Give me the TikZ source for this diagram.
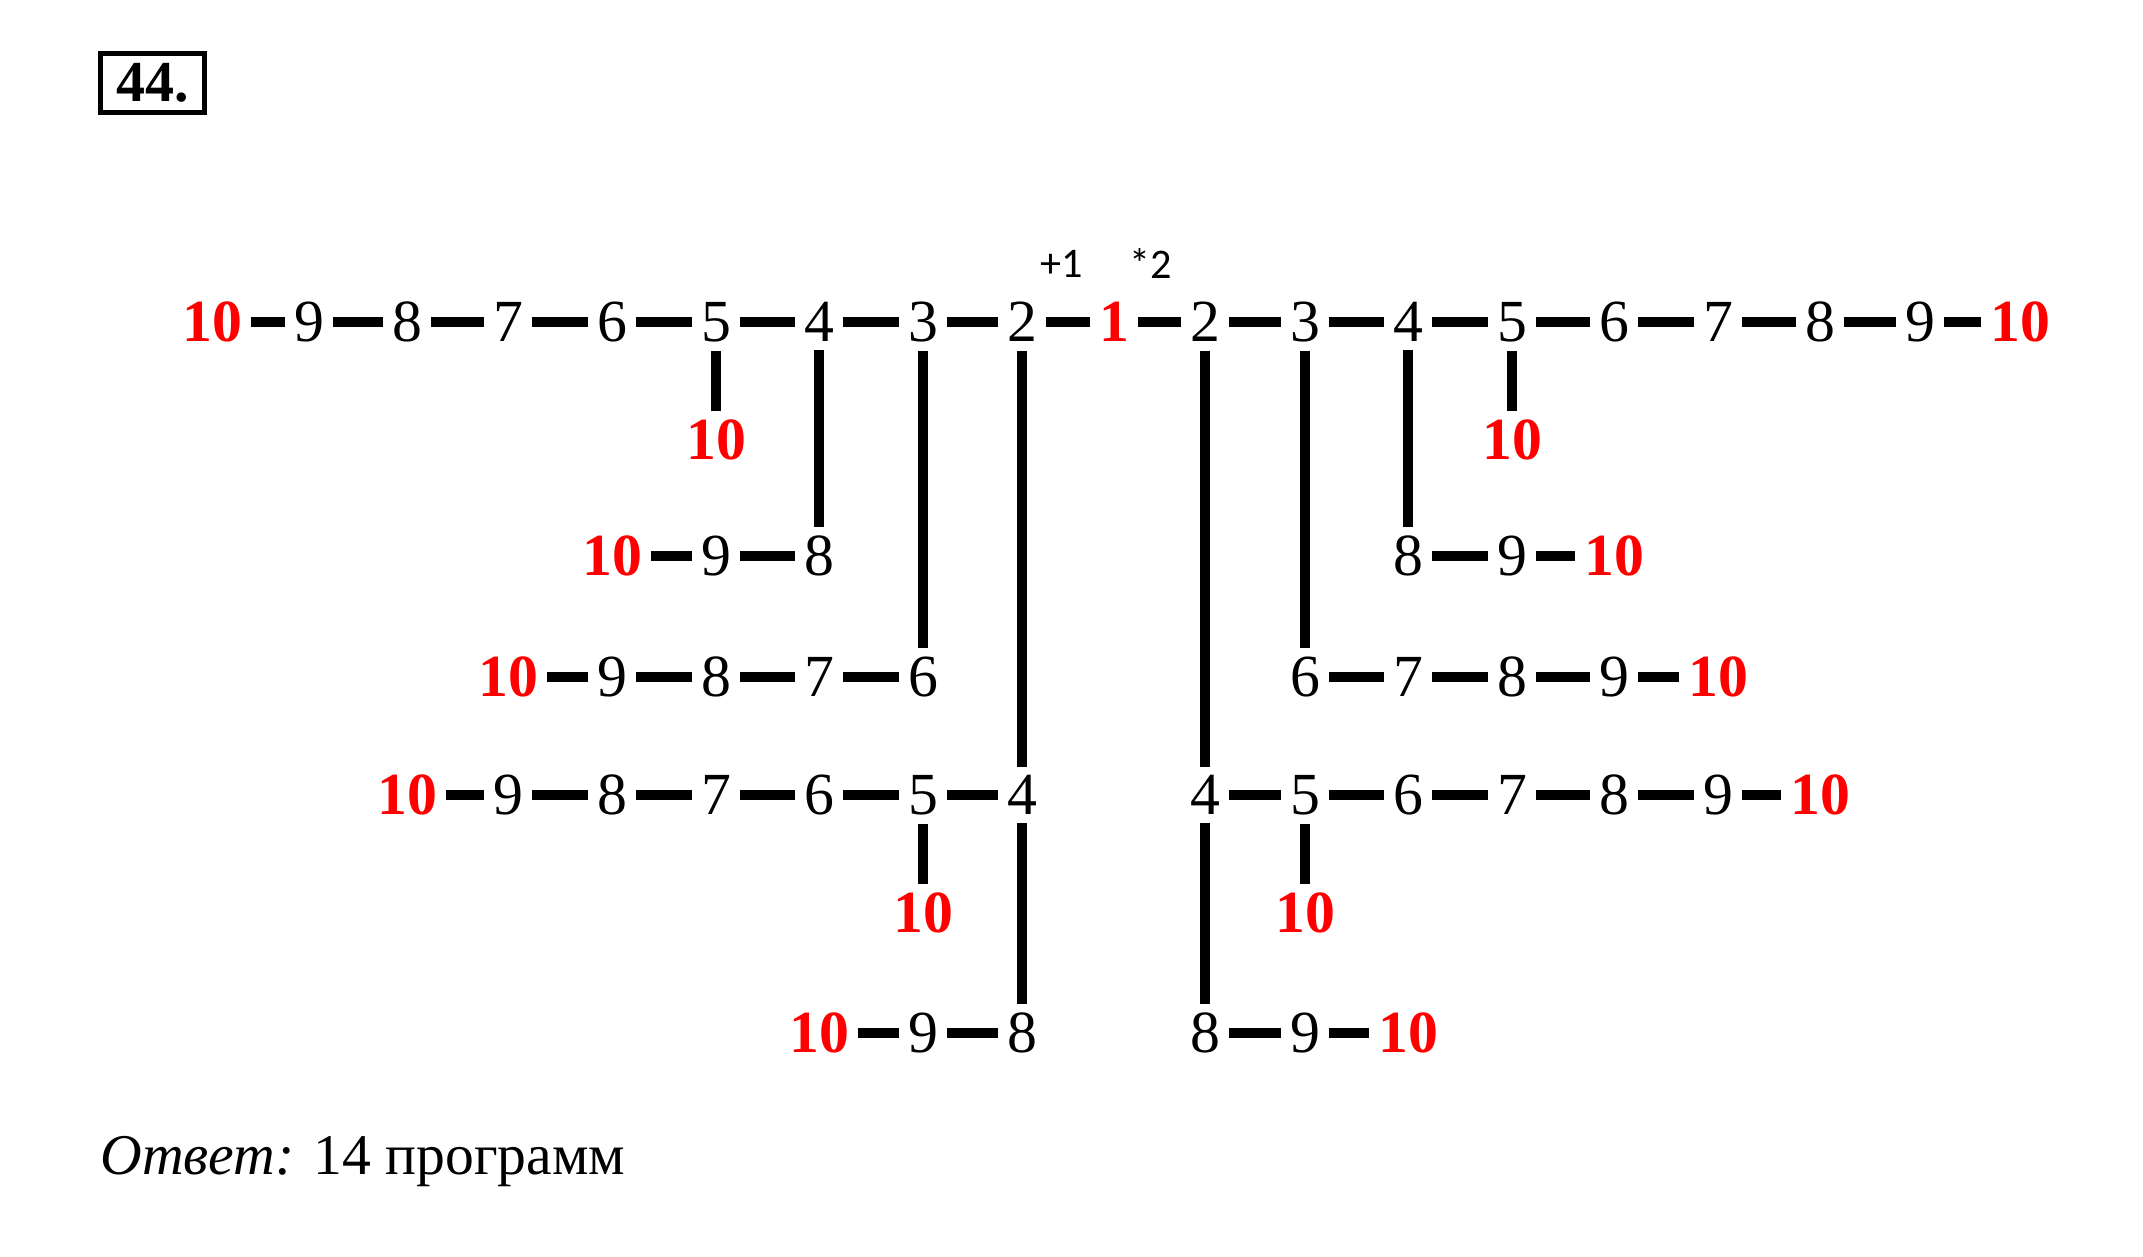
\documentclass[tikz,border=0pt]{standalone}
\usepackage{fontspec}
\setmainfont{Liberation Serif}
\newfontfamily\calfont{Carlito}
\usepackage{tikz}

\newcommand{\numsize}{\fontsize{17}{20}\selectfont}

\tikzset{
    num/.style={font=\numsize, inner sep=1pt, outer sep=1.5pt},
    ten/.style={num, font=\numsize\bfseries, text=red},
    link/.style={line width=2.6pt},
    oplabel/.style={font=\calfont\fontsize{12}{14}\selectfont}
}

\begin{document}
\begin{tikzpicture}
    \useasboundingbox (0,0) rectangle (21.43,-12.56);

    % Task number
    \node[draw, line width=1.3pt, font=\fontsize{16.5}{19}\selectfont\bfseries,
          minimum width=1.04cm, minimum height=0.59cm, inner sep=0pt] (task) at (1.525,-0.83) {44.};

    % Commands
    \node[oplabel] (plus) at (10.62,-2.64) {+1};
    \node[oplabel] (times) at (11.51,-2.64) {*2};

    % Main chain
    \node[ten] (l10) at (2.12,-3.22) {10};
    \foreach \v/\x in {9/3.09, 8/4.07, 7/5.08, 6/6.12, 5/7.16, 4/8.19, 3/9.23, 2/10.22}
        \node[num] (l\v) at (\x,-3.22) {\v};
    \node[ten] (one) at (11.14,-3.22) {1};
    \foreach \v/\x in {2/12.05, 3/13.05, 4/14.08, 5/15.12, 6/16.14, 7/17.18, 8/18.20, 9/19.20}
        \node[num] (r\v) at (\x,-3.22) {\v};
    \node[ten] (r10) at (20.20,-3.22) {10};

    % Left branches
    \node[ten] (lb10) at (l5 |- 0,-4.40) {10};

    \node[num] (lc8) at (l4 |- 0,-5.56) {8};
    \node[num] (lc9) at (l5 |- 0,-5.56) {9};
    \node[ten] (lc10) at (l6 |- 0,-5.56) {10};

    \node[num] (ld6) at (l3 |- 0,-6.77) {6};
    \node[num] (ld7) at (l4 |- 0,-6.77) {7};
    \node[num] (ld8) at (l5 |- 0,-6.77) {8};
    \node[num] (ld9) at (l6 |- 0,-6.77) {9};
    \node[ten] (ld10) at (l7 |- 0,-6.77) {10};

    \node[num] (le4) at (l2 |- 0,-7.95) {4};
    \node[num] (le5) at (l3 |- 0,-7.95) {5};
    \node[num] (le6) at (l4 |- 0,-7.95) {6};
    \node[num] (le7) at (l5 |- 0,-7.95) {7};
    \node[num] (le8) at (l6 |- 0,-7.95) {8};
    \node[num] (le9) at (l7 |- 0,-7.95) {9};
    \node[ten] (le10) at (l8 |- 0,-7.95) {10};

    \node[ten] (lf10) at (l3 |- 0,-9.13) {10};

    \node[num] (lg8) at (l2 |- 0,-10.33) {8};
    \node[num] (lg9) at (l3 |- 0,-10.33) {9};
    \node[ten] (lg10) at (l4 |- 0,-10.33) {10};

    % Right branches
    \node[ten] (rb10) at (r5 |- 0,-4.40) {10};

    \node[num] (rc8) at (r4 |- 0,-5.56) {8};
    \node[num] (rc9) at (r5 |- 0,-5.56) {9};
    \node[ten] (rc10) at (r6 |- 0,-5.56) {10};

    \node[num] (rd6) at (r3 |- 0,-6.77) {6};
    \node[num] (rd7) at (r4 |- 0,-6.77) {7};
    \node[num] (rd8) at (r5 |- 0,-6.77) {8};
    \node[num] (rd9) at (r6 |- 0,-6.77) {9};
    \node[ten] (rd10) at (r7 |- 0,-6.77) {10};

    \node[num] (re4) at (r2 |- 0,-7.95) {4};
    \node[num] (re5) at (r3 |- 0,-7.95) {5};
    \node[num] (re6) at (r4 |- 0,-7.95) {6};
    \node[num] (re7) at (r5 |- 0,-7.95) {7};
    \node[num] (re8) at (r6 |- 0,-7.95) {8};
    \node[num] (re9) at (r7 |- 0,-7.95) {9};
    \node[ten] (re10) at (r8 |- 0,-7.95) {10};

    \node[ten] (rf10) at (r3 |- 0,-9.13) {10};

    \node[num] (rg8) at (r2 |- 0,-10.33) {8};
    \node[num] (rg9) at (r3 |- 0,-10.33) {9};
    \node[ten] (rg10) at (r4 |- 0,-10.33) {10};

    % Links
    \draw[link] (l10) -- (l9) -- (l8) -- (l7) -- (l6) -- (l5) -- (l4) -- (l3) -- (l2) -- (one)
        -- (r2) -- (r3) -- (r4) -- (r5) -- (r6) -- (r7) -- (r8) -- (r9) -- (r10);

    \draw[link] (l5) -- (lb10);
    \draw[link] (l4) -- (lc8) -- (lc9) -- (lc10);
    \draw[link] (l3) -- (ld6) -- (ld7) -- (ld8) -- (ld9) -- (ld10);
    \draw[link] (l2) -- (le4) -- (le5) -- (le6) -- (le7) -- (le8) -- (le9) -- (le10);
    \draw[link] (le5) -- (lf10);
    \draw[link] (le4) -- (lg8) -- (lg9) -- (lg10);

    \draw[link] (r5) -- (rb10);
    \draw[link] (r4) -- (rc8) -- (rc9) -- (rc10);
    \draw[link] (r3) -- (rd6) -- (rd7) -- (rd8) -- (rd9) -- (rd10);
    \draw[link] (r2) -- (re4) -- (re5) -- (re6) -- (re7) -- (re8) -- (re9) -- (re10);
    \draw[link] (re5) -- (rf10);
    \draw[link] (re4) -- (rg8) -- (rg9) -- (rg10);

    % Answer
    \node[anchor=base west, inner sep=0pt, font=\fontsize{16.4}{19}\selectfont] (answer)
        at (1.0,-11.74) {\textit{Ответ:} 14 программ};
\end{tikzpicture}
\end{document}
